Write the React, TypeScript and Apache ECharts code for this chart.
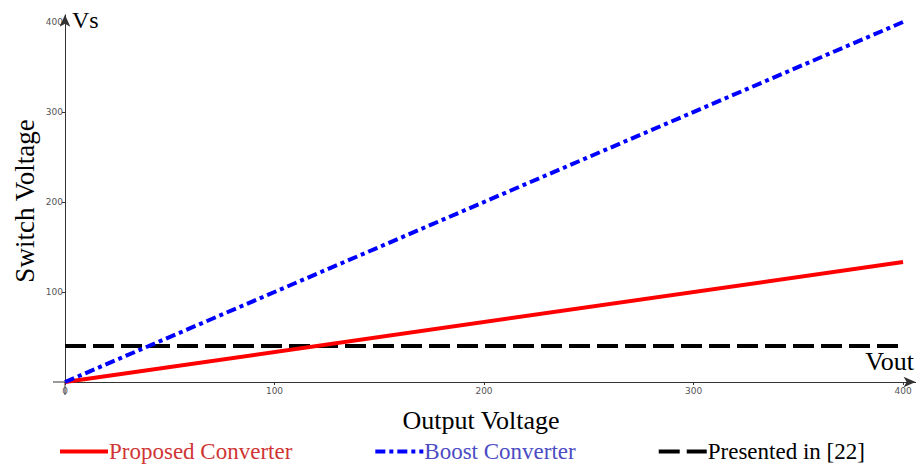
import React, { useEffect, useRef } from "react";
import * as echarts from "echarts";

const xValues = [0, 400];
const proposed = [0, 133.3];
const boost = [0, 400];
const presented = [40, 40];
const xTicks = [0, 100, 200, 300, 400];
const yTicks = [100, 200, 300, 400];
const seriesNames = ["Proposed Converter", "Boost Converter", "Presented in [22]"];

export default function App() {
  const ref = useRef<HTMLDivElement>(null);
  useEffect(() => {
    const chart = echarts.init(ref.current!, null, { renderer: "svg" });
    const pairs = (ys: number[]) => xValues.map((x, i) => [x, ys[i]]);
    const serif = "'Liberation Serif', 'Times New Roman', serif";
    const axisCommon = {
      type: "value",
      min: 0,
      axisLine: {
        onZero: false,
        symbol: ["none", "arrow"],
        symbolSize: [8, 12],
        lineStyle: { color: "#333", width: 1 },
      },
      splitLine: { show: false },
    };
    chart.setOption({
      animation: false,
      grid: { left: 65, right: 3.4, top: 14.8, bottom: 85, containLabel: false },
      xAxis: {
        ...axisCommon,
        max: 406,
        axisTick: { customValues: xTicks, length: 3, lineStyle: { color: "#333" } },
        axisLabel: {
          customValues: xTicks,
          fontSize: 9,
          color: "#555",
          fontFamily: "'DejaVu Sans', sans-serif",
          margin: 4,
        },
      },
      yAxis: {
        ...axisCommon,
        max: 408,
        axisTick: { customValues: yTicks, length: 3, lineStyle: { color: "#333" } },
        axisLabel: {
          customValues: yTicks,
          fontSize: 9,
          color: "#555",
          fontFamily: "'DejaVu Sans', sans-serif",
          margin: 2,
        },
      },
      legend: {
        left: 53,
        top: 435,
        itemGap: 81,
        itemWidth: 48,
        itemHeight: 14,
        itemStyle: { opacity: 0 },
        lineStyle: { width: 4 },
        data: [
          { name: seriesNames[0], textStyle: { color: "#d03535" } },
          { name: seriesNames[1], textStyle: { color: "#4b4bc4" } },
          { name: seriesNames[2], textStyle: { color: "#000" } },
        ],
        textStyle: { fontFamily: serif, fontSize: 23, padding: [0, 0, 0, -4] },
      },
      graphic: [
        { type: "line", shape: { x1: 53, y1: 382, x2: 65, y2: 382 }, style: { stroke: "#333", lineWidth: 1 } },
        { type: "line", shape: { x1: 65, y1: 382, x2: 65, y2: 395 }, style: { stroke: "#333", lineWidth: 1 } },
        { type: "text", left: 72, top: 8, style: { text: "Vs", font: `24px ${serif}`, fill: "#000" } },
        { type: "text", right: 5, top: 348, style: { text: "Vout", font: `26px ${serif}`, fill: "#000" } },
        {
          type: "text",
          x: 25,
          y: 201,
          rotation: Math.PI / 2,
          style: {
            text: "Switch Voltage",
            font: `27px ${serif}`,
            fill: "#000",
            align: "center",
            verticalAlign: "middle",
          },
        },
        {
          type: "text",
          x: 481,
          y: 420,
          style: {
            text: "Output Voltage",
            font: `26px ${serif}`,
            fill: "#000",
            align: "center",
            verticalAlign: "middle",
          },
        },
      ],
      series: [
        {
          name: seriesNames[0],
          type: "line",
          data: pairs(proposed),
          showSymbol: false,
          symbol: "none",
          lineStyle: { color: "#ff0000", width: 4 },
          itemStyle: { color: "#ff0000" },
          z: 3,
        },
        {
          name: seriesNames[1],
          type: "line",
          data: pairs(boost),
          showSymbol: false,
          symbol: "none",
          lineStyle: { color: "#0000ff", width: 4, type: [10, 4, 4, 4] },
          itemStyle: { color: "#0000ff" },
          z: 4,
        },
        {
          name: seriesNames[2],
          type: "line",
          data: pairs(presented),
          showSymbol: false,
          symbol: "none",
          lineStyle: { color: "#000000", width: 4, type: [21, 7] },
          itemStyle: { color: "#000000" },
          z: 2,
        },
      ],
    });
    return () => chart.dispose();
  }, []);
  return (
    <div
      ref={ref}
      style={{ position: "fixed", left: 0, top: 0, width: 919, height: 467, background: "#fff" }}
    />
  );
}
